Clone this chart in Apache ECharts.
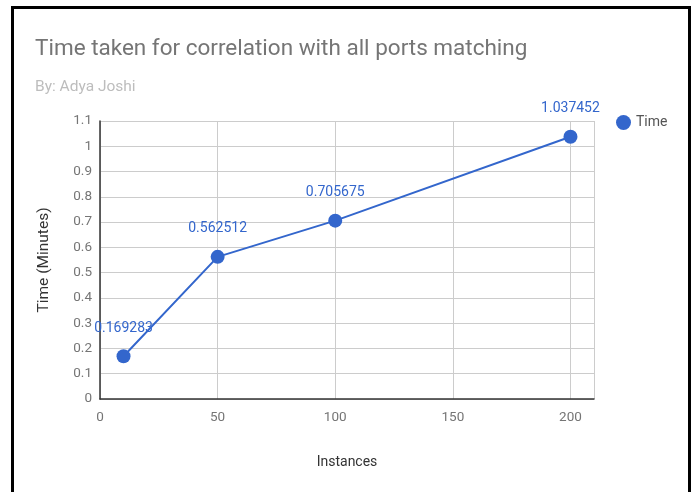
<!DOCTYPE html>
<html><head><meta charset="utf-8">
<script src="https://cdn.jsdelivr.net/npm/echarts@6/dist/echarts.min.js"></script>
<style>
html,body{margin:0;padding:0;background:#fff;}
#frame{position:absolute;left:11px;top:6px;width:674px;height:500px;border:3px solid #000;border-bottom:none;}
#c{position:absolute;left:0;top:0;width:693px;height:492px;}
</style></head>
<body>
<div id="frame"></div>
<div id="c"></div>
<script>
const instances = [10, 50, 100, 200];
const timeMinutes = [0.169283, 0.562512, 0.705675, 1.037452];
const seriesName = 'Time';
const titleText = 'Time taken for correlation with all ports matching';
const subtitleText = 'By: Adya Joshi';
const xName = 'Instances';
const yName = 'Time (Minutes)';

const chart = echarts.init(document.getElementById('c'));
const font = 'Roboto, "Noto Sans", sans-serif';
chart.setOption({
  animation: false,
  textStyle: {fontFamily: font},
  title: {
    text: titleText, subtext: subtitleText, left: 30, top: 33, itemGap: 18,
    textStyle: {fontSize: 22.5, fontWeight: 'normal', color: '#757575', fontFamily: font},
    subtextStyle: {fontSize: 15.5, color: '#bdbdbd', fontFamily: font}
  },
  legend: {
    data: [seriesName], left: 611, top: 110, icon: 'circle', itemWidth: 15, itemHeight: 15, itemGap: 5,
    textStyle: {fontSize: 14, color: '#555', fontFamily: font}
  },
  grid: {left: 100, right: 99, top: 121, bottom: 93},
  xAxis: {
    type: 'value', min: 0, max: 210, interval: 50,
    name: xName, nameLocation: 'middle', nameGap: 56,
    nameTextStyle: {fontSize: 14, color: '#333', fontFamily: font},
    axisLine: {show: true, lineStyle: {color: '#333', width: 1.5}},
    axisTick: {show: false},
    axisLabel: {fontSize: 13.5, color: '#757575', margin: 12, showMaxLabel: false},
    splitLine: {show: true, lineStyle: {color: '#ccc'}}
  },
  yAxis: {
    type: 'value', min: 0, max: 1.1, interval: 0.1,
    name: yName, nameLocation: 'middle', nameGap: 48, nameRotate: 90,
    nameTextStyle: {fontSize: 15.5, color: '#333', fontFamily: font},
    axisLine: {show: true, lineStyle: {color: '#333', width: 1.5}},
    axisTick: {show: false},
    axisLabel: {fontSize: 13.5, color: '#757575', margin: 8, formatter: v => String(+v.toFixed(1))},
    splitLine: {show: true, lineStyle: {color: '#ccc'}}
  },
  series: [{
    name: seriesName, type: 'line',
    data: instances.map((x, i) => [x, timeMinutes[i]]),
    symbol: 'circle', symbolSize: 14,
    itemStyle: {color: '#3366cc'},
    lineStyle: {color: '#3366cc', width: 2},
    label: {show: true, position: 'top', distance: 14, fontSize: 14, color: '#3366cc',
      formatter: p => String(p.value[1])}
  }]
});
</script>
</body></html>
